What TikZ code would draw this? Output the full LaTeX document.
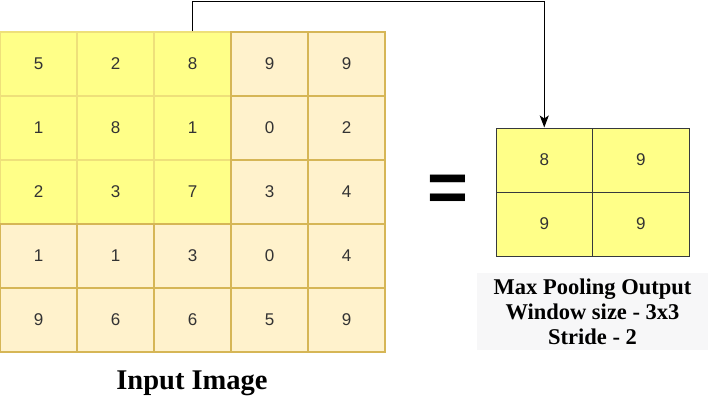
\documentclass[tikz,border=0pt]{standalone}
\usepackage{fontspec}
\setmainfont{Liberation Serif}
\newfontfamily\cellfont{Liberation Sans}
\usetikzlibrary{arrows.meta}
\definecolor{hiyel}{HTML}{FFFF88}
\definecolor{hiedge}{HTML}{EEE07A}
\definecolor{beige}{HTML}{FFF2CC}
\definecolor{beigeedge}{HTML}{D6B656}
\definecolor{darkedge}{HTML}{36393D}
\definecolor{numcol}{HTML}{333333}
\definecolor{capbg}{HTML}{F7F7F8}
\tikzset{
  incell/.style={rectangle, minimum width=77pt, minimum height=64pt, inner sep=0pt,
    fill=beige, draw=beigeedge, line width=1.2pt, font=\cellfont\fontsize{17}{19}\selectfont, text=numcol},
  hicell/.style={incell, fill=hiyel, draw=hiedge},
  outcell/.style={rectangle, minimum width=96.5pt, minimum height=64pt, inner sep=0pt,
    fill=hiyel, draw=darkedge, line width=1pt, font=\cellfont\fontsize{17}{19}\selectfont, text=numcol},
  conn/.style={line width=1.3pt, -{Stealth[length=12pt,width=9pt,inset=3pt]}},
  caption/.style={font=\bfseries\fontsize{22.5}{25}\selectfont, align=center}
}
\begin{document}
\begin{tikzpicture}[x=1pt,y=-1pt]
\useasboundingbox (0,0) rectangle (708,401);
% input grid
\foreach \r/\vals in {1/{5,2,8,9,9},2/{1,8,1,0,2},3/{2,3,7,3,4},4/{1,1,3,0,4},5/{9,6,6,5,9}}{
  \foreach \v [count=\c] in \vals {
    \pgfmathtruncatemacro{\hi}{(\r<4)&&(\c<4)}
    \ifnum\hi=1
      \node[hicell] (in\r\c) at ({38.5+77*(\c-1)}, {64+64*(\r-1)}) {\v};
    \else
      \node[incell] (in\r\c) at ({38.5+77*(\c-1)}, {64+64*(\r-1)}) {\v};
    \fi
  }
}
% output grid
\node[outcell] (out11) at (544.25,160) {8};
\node[outcell] (out12) at (640.75,160) {9};
\node[outcell] (out21) at (544.25,224) {9};
\node[outcell] (out22) at (640.75,224) {9};
% connector
\coordinate (topc) at (0,1.5);
\draw[conn] (in13.north) -- (in13.north |- topc) -| (out11.north);
% equals sign
\node[font=\cellfont\bfseries\fontsize{70}{70}\selectfont, inner sep=0pt] (eq) at (448,193) {=};
% captions
\node[fill=capbg, minimum width=231pt, minimum height=77pt, inner sep=0pt, caption] (outcap) at (592.5,311.5)
  {Max Pooling Output\\Window size - 3x3\\Stride - 2};
\node[font=\bfseries\fontsize{28.5}{32}\selectfont] (incap) at (192,383) {Input Image};
\end{tikzpicture}
\end{document}
